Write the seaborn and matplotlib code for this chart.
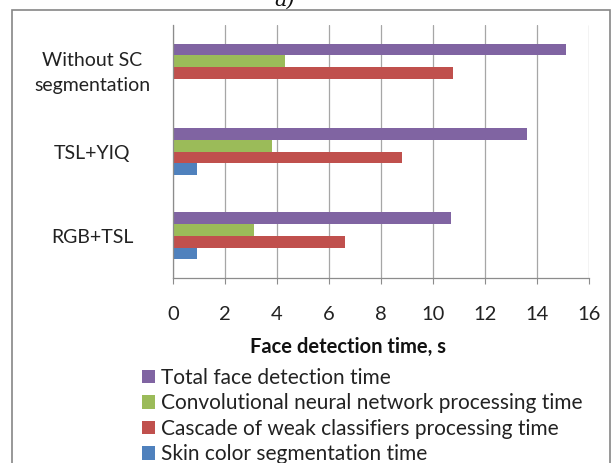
import numpy as np
import pandas as pd
import matplotlib
matplotlib.use("Agg")
import matplotlib.pyplot as plt
import seaborn as sns
from matplotlib.patches import Rectangle

# data (seconds)
CONFIGS = ["Without SC\nsegmentation", "TSL+YIQ", "RGB+TSL"]
COMPONENTS = [
    "Total face detection time",
    "Convolutional neural network processing time",
    "Cascade of weak classifiers processing time",
    "Skin color segmentation time",
]
TOTAL = [15.1, 13.6, 10.7]
CNN = [4.3, 3.8, 3.1]
CASCADE = [10.75, 8.8, 6.6]
SKIN = [0.0, 0.92, 0.92]
COLORS = ["#8064A2", "#9BBB59", "#C0504D", "#4F81BD"]
XTICKS = [0, 2, 4, 6, 8, 10, 12, 14, 16]

# long format for seaborn
rows = []
for comp, vals in zip(COMPONENTS, [TOTAL, CNN, CASCADE, SKIN]):
    for cfg, v in zip(CONFIGS, vals):
        rows.append({"config": cfg, "component": comp, "time": v})
df = pd.DataFrame(rows)

sns.set_style("white")
plt.rcParams["font.family"] = ["Lato", "DejaVu Sans"]

fig = plt.figure(figsize=(6.12, 4.63), dpi=100)
ax = fig.add_axes([173 / 612, 1 - 278 / 463, 416 / 612, 253 / 463])

sns.barplot(data=df, y="config", x="time", hue="component", order=CONFIGS,
            hue_order=COMPONENTS, palette=COLORS, orient="h", width=0.555,
            saturation=1, errorbar=None, linewidth=0, ax=ax)

ax.set_xlim(0, 16)
ax.set_xticks(XTICKS)
ax.set_xticklabels([str(t) for t in XTICKS], fontsize=14.5, color="#222222")
ax.grid(axis="x", color="#A6A6A6", linewidth=0.9)
ax.set_axisbelow(True)
for s in ["top", "right"]:
    ax.spines[s].set_visible(False)
for s in ["left", "bottom"]:
    ax.spines[s].set_color("#8C8C8C")
    ax.spines[s].set_linewidth(0.9)
ax.tick_params(axis="x", bottom=True, length=4, color="#8C8C8C", pad=16)
ax.tick_params(axis="y", left=False, length=0, pad=58)
ax.set_yticks(range(len(CONFIGS)))
ax.set_yticklabels(CONFIGS, fontsize=14, color="#222222", ha="center",
                   multialignment="center", linespacing=1.6)
ax.set_ylabel("")

ax.set_xlabel("Face detection time, s", fontsize=14.5, fontweight="bold",
              color="#111111")
ax.xaxis.set_label_coords((347.5 - 173) / 416, -0.235)

ax.legend(loc="upper left", bbox_to_anchor=(142 / 612, 1 - 368 / 463),
          bbox_transform=fig.transFigure, frameon=False, fontsize=15,
          handlelength=0.6, handleheight=0.6, handletextpad=0.3,
          labelspacing=0.26, borderaxespad=0, borderpad=0)
for t in ax.get_legend().get_texts():
    t.set_color("#222222")

# chart area border (runs off the bottom)
fig.patches.append(Rectangle((12 / 612, -0.05), 598 / 612, 1.05 - 10 / 463,
                             transform=fig.transFigure, fill=False,
                             edgecolor="#868686", linewidth=1.2))

# caption cut off at the top
fig.text(285 / 612, 1 - 6 / 463, "a)", fontsize=15, style="italic",
         family="DejaVu Serif", ha="center", va="baseline", color="#111111")

fig.savefig("out.png", dpi=100)
